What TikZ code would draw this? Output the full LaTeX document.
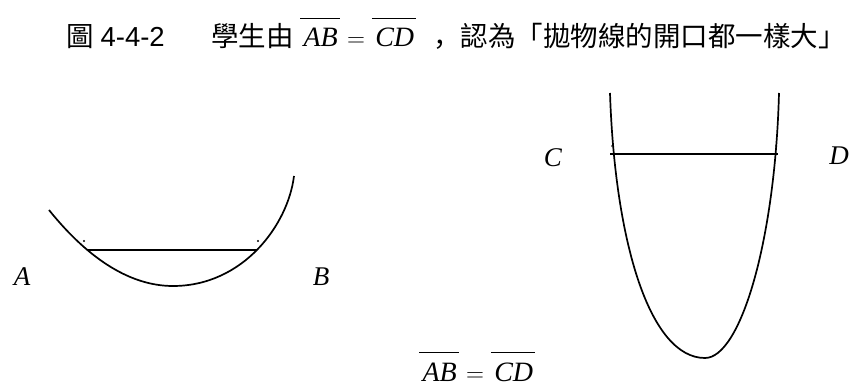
\documentclass[tikz,border=0pt]{standalone}
\usepackage{amsmath,amssymb}
\usepackage{fontspec}
\usepackage{tikz}
\setmainfont{Liberation Serif}
\newfontfamily\cjk{Noto Sans CJK TC}
\newfontfamily\cjksc{Noto Sans CJK SC}
\newfontfamily\arial{Liberation Sans}
% bar over a segment name
\newcommand{\seg}[1]{\leavevmode\vbox{\hrule height 1.3pt\kern 9.5pt\hbox{\kern0.12em\itshape #1\kern0.08em}}}
\newcommand{\segeq}{\seg{AB}\hspace{0.25em}$=$\hspace{0.25em}\seg{CD}}

\begin{document}
\begin{tikzpicture}[x=1pt,y=-1pt,
  curve/.style={line width=1.7pt},
  chord/.style={line width=1.5pt},
  tip/.style={circle,fill,inner sep=0pt,minimum size=2.4pt},
  lbl/.style={anchor=base,inner sep=0pt,font=\fontsize{27}{30}\selectfont\itshape},
  every node/.append style={font=\fontsize{27.5}{32}\selectfont}]
\useasboundingbox (0,0) rectangle (855,385);
% title
\node[anchor=base east,inner sep=0pt] (fignum) at (165,47) {{\cjk 圖} {\arial 4-4-2}};
\node[anchor=base west,inner sep=0pt] (said) at (211,47) {\cjk 學生由};
\node[anchor=base west,inner sep=0pt,font=\fontsize{28}{32}\selectfont] (eqtop) at (300,47) {\segeq};
\node[anchor=base west,inner sep=0pt] (claim) at (433,47) {{\cjksc ，}{\cjk 認為「拋物線的開口都一樣大」}};
% wide parabola
\draw[curve] (49,210) .. controls (90,261) and (132,286) .. (173,286)
  .. controls (243,286) and (288,225) .. (294,176);
\coordinate (a) at (87,250);
\coordinate (b) at (257,250);
\draw[chord] (a) -- (b);
\node[tip] (adot) at (84,241) {};
\node[tip] (bdot) at (258,241) {};
\node[lbl] (A) at (22,285) {A};
\node[lbl] (B) at (321,285) {B};
% narrow parabola
\draw[curve] (610,93) .. controls (615,243) and (650,358) .. (705,358)
  .. controls (740,358) and (775,243) .. (779,93);
\coordinate (c) at (610,154);
\coordinate (d) at (778,154);
\draw[chord] (c) -- (d);
\node[tip,minimum size=1.8pt] (cdot) at (612,146) {};
\node[tip,minimum size=1.8pt] (ddot) at (776,146) {};
\node[lbl] (C) at (553,167) {C};
\node[lbl] (D) at (839,165) {D};
% equal chords
\node[anchor=base west,inner sep=0pt,font=\fontsize{28}{32}\selectfont] (eqbot) at (419,381) {\segeq};
\end{tikzpicture}
\end{document}
